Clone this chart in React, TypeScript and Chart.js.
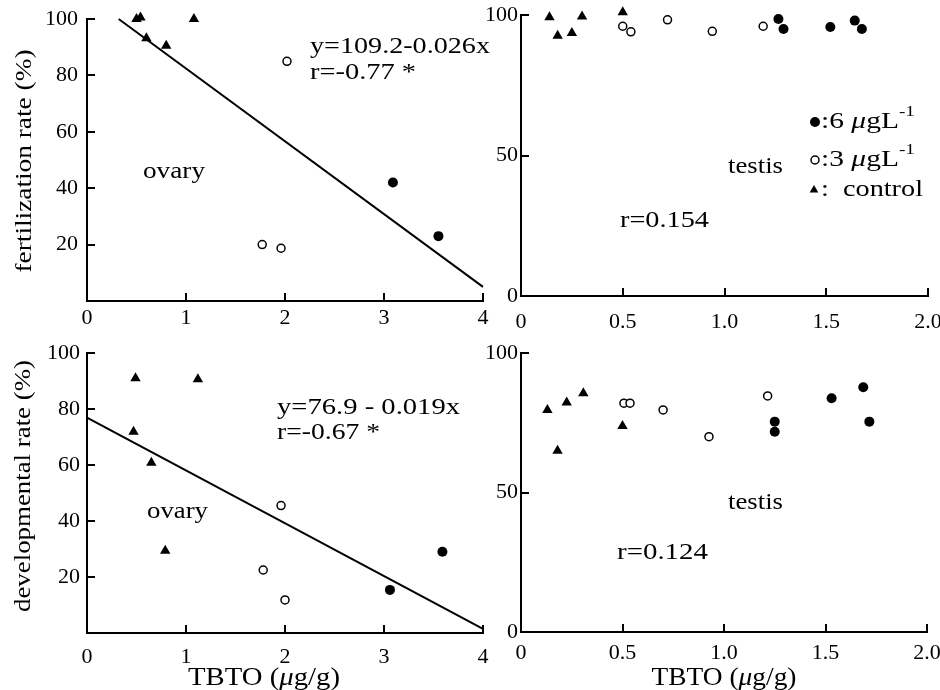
import React, { useEffect, useRef } from 'react';
import { Chart, registerables } from 'chart.js';

Chart.register(...registerables);

// ---------- data (TBTO in µg/g, rate in %) ----------
// fertilization rate vs TBTO in ovary
const ovaryFertControlX = [0.5, 0.54, 0.6, 0.8, 1.08];
const ovaryFertControlY = [100, 100.5, 93.2, 90.5, 100];
const ovaryFert3X = [2.02, 1.77, 1.96];
const ovaryFert3Y = [85, 20, 18.7];
const ovaryFert6X = [3.09, 3.55];
const ovaryFert6Y = [42, 23];
const ovaryFertFitX = [0.32, 4];
const ovaryFertFitY = [100, 5];

// fertilization rate vs TBTO in testis
const testisFertControlX = [0.14, 0.18, 0.25, 0.3, 0.5];
const testisFertControlY = [99.2, 92.6, 93.6, 99.5, 101];
const testisFert3X = [0.5, 0.54, 0.72, 0.94, 1.19];
const testisFert3Y = [96, 94, 98.3, 94.2, 96];
const testisFert6X = [1.265, 1.29, 1.52, 1.64, 1.675];
const testisFert6Y = [98.6, 95, 95.7, 98, 95];

// developmental rate vs TBTO in ovary
const ovaryDevControlX = [0.49, 1.12, 0.47, 0.65, 0.79];
const ovaryDevControlY = [91, 90.6, 71.9, 60.8, 29.4];
const ovaryDev3X = [1.96, 1.78, 2.0];
const ovaryDev3Y = [45.5, 22.5, 11.8];
const ovaryDev6X = [3.06, 3.59];
const ovaryDev6Y = [15.4, 29];
const ovaryDevFitX = [0, 4];
const ovaryDevFitY = [76.9, 1.5];

// developmental rate vs TBTO in testis
const testisDevControlX = [0.13, 0.18, 0.225, 0.307, 0.5];
const testisDevControlY = [79.6, 65, 82.3, 85.6, 73.8];
const testisDev3X = [0.507, 0.537, 0.7, 0.926, 1.215];
const testisDev3Y = [82, 82, 79.6, 70, 84.6];
const testisDev6X = [1.25, 1.25, 1.53, 1.686, 1.716];
const testisDev6Y = [75.4, 71.8, 83.8, 87.7, 75.4];

// tick values / labels
const ovaryXTicks = [0, 1, 2, 3, 4];
const ovaryXTickLabels = ['0', '1', '2', '3', '4'];
const ovaryYTicks = [0, 20, 40, 60, 80, 100];
const ovaryYTickLabels = ['', '20', '40', '60', '80', '100'];
const testisXTicks = [0, 0.5, 1, 1.5, 2];
const testisXTickLabels = ['0', '0.5', '1.0', '1.5', '2.0'];
const testisYTicks = [0, 50, 100];
const testisYTickLabels = ['0', '50', '100'];

// ---------- drawing helpers ----------
const FAMILY = '"Liberation Serif", "Times New Roman", serif';

type Seg = { t: string; it?: boolean; sup?: boolean };
type Note = { segs: Seg[]; x: number; y: number; size: number; w: number; align?: 'left' | 'center'; rot?: boolean };
type Mark = { kind: 'filled' | 'open' | 'tri'; x: number; y: number; r: number };

function segFont(s: Seg, size: number) {
  const sz = s.sup ? Math.round(size * 0.65) : size;
  return `${s.it ? 'italic ' : ''}${sz}px ${FAMILY}`;
}

function drawNote(ctx: CanvasRenderingContext2D, n: Note) {
  let natural = 0;
  const widths = n.segs.map((s) => {
    ctx.font = segFont(s, n.size);
    const w = ctx.measureText(s.t).width;
    natural += w;
    return w;
  });
  const sx = n.w / natural;
  ctx.save();
  ctx.translate(n.x, n.y);
  if (n.rot) ctx.rotate(-Math.PI / 2);
  ctx.scale(sx, 1);
  ctx.fillStyle = '#000';
  ctx.textBaseline = 'middle';
  ctx.textAlign = 'left';
  let cx = n.align === 'center' ? -natural / 2 : 0;
  n.segs.forEach((s, i) => {
    ctx.font = segFont(s, n.size);
    ctx.fillText(s.t, cx, s.sup ? -n.size * 0.45 : 0);
    cx += widths[i];
  });
  ctx.restore();
}

function drawMark(ctx: CanvasRenderingContext2D, m: Mark) {
  ctx.save();
  ctx.fillStyle = '#000';
  ctx.strokeStyle = '#000';
  ctx.lineWidth = 1.5;
  ctx.beginPath();
  if (m.kind === 'tri') {
    const half = (m.r * Math.sqrt(3)) / 2;
    ctx.moveTo(m.x, m.y - m.r);
    ctx.lineTo(m.x + half, m.y + m.r / 2);
    ctx.lineTo(m.x - half, m.y + m.r / 2);
    ctx.closePath();
    ctx.fill();
  } else {
    ctx.arc(m.x, m.y, m.r, 0, Math.PI * 2);
    if (m.kind === 'filled') ctx.fill();
    else {
      ctx.fillStyle = '#fff';
      ctx.fill();
      ctx.stroke();
    }
  }
  ctx.restore();
}

const pts = (xs: number[], ys: number[]) => xs.map((x, i) => ({ x, y: ys[i] }));

type Panel = {
  left: number;
  top: number;
  width: number;
  height: number;
  area: { l: number; r: number; t: number; b: number }; // page coords
  xMax: number;
  xTicks: number[];
  xTickLabels: string[];
  yTicks: number[];
  yTickLabels: string[];
  xPad: number;
  yPad: number;
  ctrl: [number[], number[]];
  low: [number[], number[]];
  high: [number[], number[]];
  fit?: [number[], number[]];
  notes: Note[];
  marks: Mark[];
};

const mu = '\u03bc';
const NS = 23;

const panels: Panel[] = [
  {
    left: 0, top: 0, width: 495, height: 345,
    area: { l: 87, r: 483, t: 19, b: 301 },
    xMax: 4, xTicks: ovaryXTicks, xTickLabels: ovaryXTickLabels,
    yTicks: ovaryYTicks, yTickLabels: ovaryYTickLabels, xPad: 4, yPad: 9,
    ctrl: [ovaryFertControlX, ovaryFertControlY],
    low: [ovaryFert3X, ovaryFert3Y],
    high: [ovaryFert6X, ovaryFert6Y],
    fit: [ovaryFertFitX, ovaryFertFitY],
    notes: [
      { segs: [{ t: 'y=109.2-0.026x' }], x: 310, y: 47, size: NS, w: 180 },
      { segs: [{ t: 'r=-0.77 *' }], x: 310, y: 73, size: NS, w: 106 },
      { segs: [{ t: 'ovary' }], x: 143, y: 172, size: NS, w: 62 },
      { segs: [{ t: 'fertilization rate (%)' }], x: 25, y: 161, size: 24, w: 223, align: 'center', rot: true },
    ],
    marks: [],
  },
  {
    left: 470, top: 0, width: 470, height: 345,
    area: { l: 521, r: 928, t: 15, b: 296 },
    xMax: 2, xTicks: testisXTicks, xTickLabels: testisXTickLabels,
    yTicks: testisYTicks, yTickLabels: testisYTickLabels, xPad: 13, yPad: 3,
    ctrl: [testisFertControlX, testisFertControlY],
    low: [testisFert3X, testisFert3Y],
    high: [testisFert6X, testisFert6Y],
    notes: [
      { segs: [{ t: 'testis' }], x: 728, y: 167, size: NS, w: 55 },
      { segs: [{ t: 'r=0.154' }], x: 620, y: 221, size: NS, w: 89 },
      { segs: [{ t: ':6 ' }, { t: mu, it: true }, { t: 'gL' }, { t: '-1', sup: true }], x: 821, y: 122, size: NS, w: 94 },
      { segs: [{ t: ':3 ' }, { t: mu, it: true }, { t: 'gL' }, { t: '-1', sup: true }], x: 821, y: 160, size: NS, w: 94 },
      { segs: [{ t: ':  control' }], x: 821, y: 190, size: NS, w: 102 },
    ],
    marks: [
      { kind: 'filled', x: 815, y: 122, r: 5 },
      { kind: 'open', x: 815, y: 160, r: 4 },
      { kind: 'tri', x: 814, y: 190, r: 5 },
    ],
  },
  {
    left: 0, top: 345, width: 495, height: 345,
    area: { l: 87, r: 483, t: 353, b: 633 },
    xMax: 4, xTicks: ovaryXTicks, xTickLabels: ovaryXTickLabels,
    yTicks: ovaryYTicks, yTickLabels: ovaryYTickLabels, xPad: 11, yPad: 7,
    ctrl: [ovaryDevControlX, ovaryDevControlY],
    low: [ovaryDev3X, ovaryDev3Y],
    high: [ovaryDev6X, ovaryDev6Y],
    fit: [ovaryDevFitX, ovaryDevFitY],
    notes: [
      { segs: [{ t: 'y=76.9 - 0.019x' }], x: 277, y: 408, size: NS, w: 183 },
      { segs: [{ t: 'r=-0.67 *' }], x: 277, y: 433, size: NS, w: 103 },
      { segs: [{ t: 'ovary' }], x: 147, y: 512, size: NS, w: 61 },
      { segs: [{ t: 'developmental rate (%)' }], x: 24, y: 486, size: 24, w: 252, align: 'center', rot: true },
      { segs: [{ t: 'TBTO (' }, { t: mu, it: true }, { t: 'g/g)' }], x: 264, y: 678, size: 25, w: 152, align: 'center' },
    ],
    marks: [],
  },
  {
    left: 470, top: 345, width: 470, height: 345,
    area: { l: 521, r: 927, t: 353, b: 632 },
    xMax: 2, xTicks: testisXTicks, xTickLabels: testisXTickLabels,
    yTicks: testisYTicks, yTickLabels: testisYTickLabels, xPad: 8, yPad: 3,
    ctrl: [testisDevControlX, testisDevControlY],
    low: [testisDev3X, testisDev3Y],
    high: [testisDev6X, testisDev6Y],
    notes: [
      { segs: [{ t: 'testis' }], x: 728, y: 503, size: NS, w: 55 },
      { segs: [{ t: 'r=0.124' }], x: 617, y: 553, size: NS, w: 91 },
      { segs: [{ t: 'TBTO (' }, { t: mu, it: true }, { t: 'g/g)' }], x: 724, y: 678, size: 25, w: 145, align: 'center' },
    ],
    marks: [],
  },
];

function buildConfig(p: Panel): any {
  const yW = p.area.l - p.left;
  const padRight = p.left + p.width - p.area.r;
  const padTop = p.area.t - p.top;
  const xH = p.top + p.height - p.area.b;

  const overlay = {
    id: 'overlay',
    afterDraw(chart: any) {
      const ctx: CanvasRenderingContext2D = chart.ctx;
      const ca = chart.chartArea;
      const xs = chart.scales.x;
      const ys = chart.scales.y;
      ctx.save();
      ctx.strokeStyle = '#000';
      ctx.lineWidth = 2;
      ctx.beginPath();
      xs.ticks.forEach((t: any) => {
        if (t.value === xs.min) return;
        const px = Math.round(xs.getPixelForValue(t.value));
        ctx.moveTo(px, ca.bottom);
        ctx.lineTo(px, ca.bottom - 8);
      });
      ys.ticks.forEach((t: any) => {
        if (t.value === ys.min) return;
        const py = Math.round(ys.getPixelForValue(t.value));
        ctx.moveTo(ca.left, py);
        ctx.lineTo(ca.left + 8, py);
      });
      ctx.stroke();
      ctx.restore();
      ctx.save();
      ctx.translate(-p.left, -p.top);
      p.marks.forEach((m) => drawMark(ctx, m));
      p.notes.forEach((n) => drawNote(ctx, n));
      ctx.restore();
    },
  };

  const datasets: any[] = [];
  if (p.fit) {
    datasets.push({
      data: pts(p.fit[0], p.fit[1]),
      showLine: true,
      borderColor: '#000',
      borderWidth: 2,
      pointRadius: 0,
      order: 10,
      clip: false,
    });
  }
  datasets.push({
    data: pts(p.ctrl[0], p.ctrl[1]),
    pointStyle: 'triangle',
    pointRadius: 6,
    backgroundColor: '#000',
    borderColor: '#000',
    borderWidth: 0,
    order: 1,
    clip: false,
  });
  datasets.push({
    data: pts(p.low[0], p.low[1]),
    pointStyle: 'circle',
    pointRadius: 4,
    backgroundColor: '#fff',
    borderColor: '#000',
    borderWidth: 1.5,
    order: 1,
    clip: false,
  });
  datasets.push({
    data: pts(p.high[0], p.high[1]),
    pointStyle: 'circle',
    pointRadius: 5,
    backgroundColor: '#000',
    borderColor: '#000',
    borderWidth: 0,
    order: 1,
    clip: false,
  });

  const tickFont = { family: FAMILY, size: 22 };

  return {
    type: 'scatter',
    data: { datasets },
    options: {
      responsive: false,
      animation: false,
      devicePixelRatio: 1,
      events: [],
      layout: { padding: { left: 0, top: padTop, right: padRight, bottom: 0 } },
      plugins: { legend: { display: false }, tooltip: { enabled: false } },
      scales: {
        x: {
          type: 'linear',
          min: 0,
          max: p.xMax,
          afterBuildTicks: (a: any) => {
            a.ticks = p.xTicks.map((v) => ({ value: v }));
          },
          afterFit: (s: any) => {
            s.height = xH;
            s.paddingLeft = 0;
            s.paddingRight = 0;
          },
          grid: { display: false, drawTicks: false },
          border: { display: true, color: '#000', width: 2 },
          ticks: {
            color: '#000',
            font: tickFont,
            padding: p.xPad,
            maxRotation: 0,
            autoSkip: false,
            callback: (_v: any, i: number) => p.xTickLabels[i],
          },
        },
        y: {
          type: 'linear',
          min: 0,
          max: 100,
          afterBuildTicks: (a: any) => {
            a.ticks = p.yTicks.map((v) => ({ value: v }));
          },
          afterFit: (s: any) => {
            s.width = yW;
            s.paddingTop = 0;
            s.paddingBottom = 0;
          },
          grid: { display: false, drawTicks: false },
          border: { display: true, color: '#000', width: 2 },
          ticks: {
            color: '#000',
            font: tickFont,
            padding: p.yPad,
            autoSkip: false,
            callback: (_v: any, i: number) => p.yTickLabels[i],
          },
        },
      },
    },
    plugins: [overlay],
  };
}

function PanelChart({ p }: { p: Panel }) {
  const ref = useRef<HTMLCanvasElement>(null);
  useEffect(() => {
    if (!ref.current) return;
    const chart = new Chart(ref.current, buildConfig(p));
    return () => chart.destroy();
  }, [p]);
  return (
    <canvas
      ref={ref}
      width={p.width}
      height={p.height}
      style={{ position: 'absolute', left: p.left, top: p.top, width: p.width, height: p.height, display: 'block' }}
    />
  );
}

export default function App() {
  return (
    <div style={{ position: 'absolute', left: 0, top: 0, width: 940, height: 690, background: '#fff', overflow: 'hidden' }}>
      {panels.map((p, i) => (
        <PanelChart key={i} p={p} />
      ))}
    </div>
  );
}
